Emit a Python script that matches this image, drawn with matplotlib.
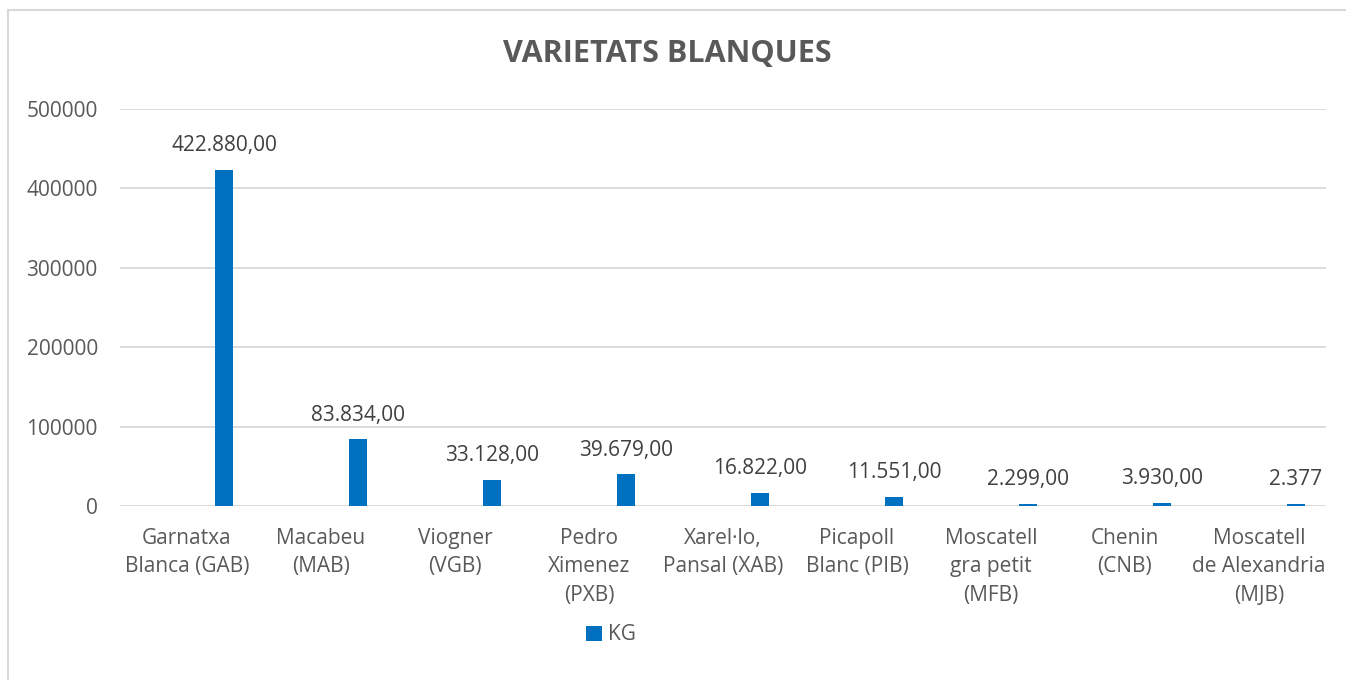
import matplotlib
matplotlib.use("Agg")
import matplotlib.pyplot as plt
from matplotlib.lines import Line2D

plt.rcParams['font.family'] = ['Open Sans', 'DejaVu Sans']

categories = ["Garnatxa\nBlanca (GAB)", "Macabeu\n(MAB)", "Viogner\n(VGB)", "Pedro\nXimenez\n(PXB)",
              "Xarel·lo,\nPansal (XAB)", "Picapoll\nBlanc (PIB)", "Moscatell\ngra petit\n(MFB)",
              "Chenin\n(CNB)", "Moscatell\nde Alexandria\n(MJB)"]
kg = [422880, 83834, 33128, 39679, 16822, 11551, 2299, 3930, 2377]
value_labels = ["422.880,00", "83.834,00", "33.128,00", "39.679,00", "16.822,00",
                "11.551,00", "2.299,00", "3.930,00", "2.377"]
yticks = [0, 100000, 200000, 300000, 400000, 500000]

GRAY = "#595959"
BLUE = "#0070C0"
GRID = "#D9D9D9"

W, H = 1346, 680
fig = plt.figure(figsize=(W / 100, H / 100), dpi=100)
ax = fig.add_axes([120 / W, 1 - 506 / H, (1326 - 120) / W, (506 - 109) / H])

x = list(range(len(kg)))
offset = 0.276
bars = ax.bar([i + offset for i in x], kg, width=0.14, color=BLUE, label="KG", zorder=3)

for i, (v, lab) in enumerate(zip(kg, value_labels)):
    ax.annotate(lab, (i + offset, v), xytext=(0, 10), textcoords="offset points",
                ha="center", va="bottom", fontsize=15, color="#404040")

ax.set_xlim(-0.5, len(kg) - 0.5)
ax.set_ylim(0, 500000)
ax.set_yticks(yticks)
ax.set_yticklabels([str(t) for t in yticks], fontsize=15, color=GRAY)
ax.set_xticks(x)
ax.set_xticklabels(categories, fontsize=15, color=GRAY, linespacing=1.45, va="top")
ax.tick_params(axis="both", length=0)
ax.tick_params(axis="x", pad=16)
ax.tick_params(axis="y", pad=16)
ax.grid(axis="y", color=GRID, linewidth=1.3, zorder=0)
for s in ax.spines.values():
    s.set_visible(False)

fig.text(667 / W, 1 - 54 / H, "VARIETATS BLANQUES", ha="center", va="center",
         fontsize=22, fontweight="bold", color=GRAY)

leg = fig.legend(handles=[bars], labels=["KG"], loc="center",
                 bbox_to_anchor=(611 / W, 1 - 635 / H), frameon=False,
                 handlelength=0.75, handleheight=0.75, handletextpad=0.3, fontsize=15)
for t in leg.get_texts():
    t.set_color(GRAY)

# chart border (top and left visible)
fig.add_artist(Line2D([8 / W, 8 / W], [0, 1 - 10 / H], transform=fig.transFigure, color=GRID, linewidth=1.5))
fig.add_artist(Line2D([8 / W, 1], [1 - 10 / H, 1 - 10 / H], transform=fig.transFigure, color=GRID, linewidth=1.5))

fig.savefig("out.png", dpi=100, facecolor="white")
